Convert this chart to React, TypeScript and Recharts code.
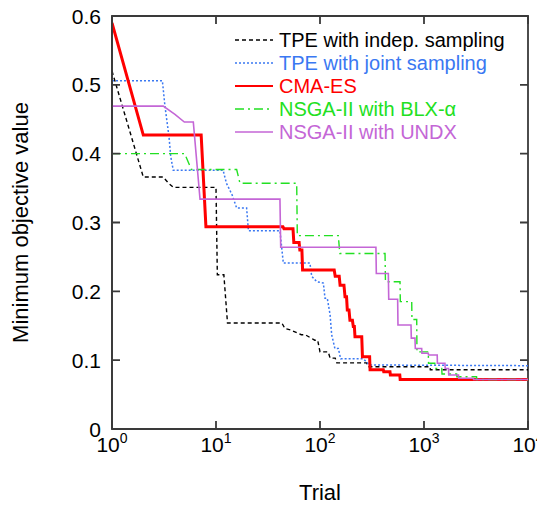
import React from 'react';
import { LineChart, Line, XAxis, YAxis, Legend, ReferenceArea } from 'recharts';

const FONT = '"Liberation Sans", Arial, Helvetica, sans-serif';
const AXIS = '#3a3a3a';
const AXIS_W = 1.8;
const PLOT_W = 416;
const PLOT_H = 413;
const TICK_LEN = 8;

// axis ticks
const xTicks = [1, 10, 100, 1000, 10000];
const xTickBase = '10';
const xTickExponents = ['0', '1', '2', '3', '4'];
const yTicks = [0, 0.1, 0.2, 0.3, 0.4, 0.5, 0.6];
const yTickLabels = ['0', '0.1', '0.2', '0.3', '0.4', '0.5', '0.6'];

// TPE with indep. sampling
const tpeIndepTrials = [1, 2, 3.1, 3.5, 3.9, 10, 10.3, 11.9, 12.9, 43, 46, 52, 66, 72, 89, 95, 100, 120, 125, 140, 145, 281, 290, 1143, 1150, 10000];
const tpeIndepValues = [0.52, 0.366, 0.366, 0.357, 0.351, 0.351, 0.224, 0.224, 0.154, 0.154, 0.146, 0.144, 0.137, 0.137, 0.129, 0.129, 0.112, 0.112, 0.103, 0.103, 0.096, 0.096, 0.0905, 0.0905, 0.086, 0.086];

// TPE with joint sampling
const tpeJointTrials = [1, 3.05, 3.23, 3.53, 3.67, 3.88, 11.7, 12.6, 14.3, 15.8, 19.7, 20.5, 41.2, 44.4, 80, 83.2, 93, 107.7, 111.7, 117.5, 125, 129.5, 139, 150, 158, 261, 300, 10000];
const tpeJointValues = [0.506, 0.506, 0.469, 0.425, 0.396, 0.376, 0.376, 0.357, 0.34, 0.321, 0.321, 0.288, 0.288, 0.241, 0.241, 0.222, 0.214, 0.212, 0.19, 0.19, 0.166, 0.137, 0.117, 0.117, 0.102, 0.102, 0.093, 0.092];

// CMA-ES
const cmaTrials = [1, 2, 7.2, 8, 44, 45, 55, 56, 63, 64, 67, 68, 137, 140, 153, 156, 170, 174, 180, 183, 190, 194, 205, 209, 214, 217, 252, 256, 300, 303, 406, 410, 471, 475, 585, 590, 10000];
const cmaValues = [0.59, 0.427, 0.427, 0.294, 0.294, 0.291, 0.291, 0.271, 0.271, 0.26, 0.26, 0.231, 0.231, 0.222, 0.222, 0.209, 0.209, 0.192, 0.192, 0.173, 0.173, 0.158, 0.158, 0.149, 0.149, 0.134, 0.134, 0.105, 0.105, 0.086, 0.086, 0.083, 0.083, 0.0785, 0.0785, 0.072, 0.072];

// NSGA-II with BLX-alpha
const blxTrials = [1, 5, 5.8, 15.8, 17, 59.7, 60.5, 150, 155, 422, 426, 588, 592, 762, 766, 851, 856, 1100, 1105, 1270, 1280, 1480, 1490, 2060, 2070, 3200, 3220, 10000];
const blxValues = [0.4, 0.4, 0.377, 0.377, 0.357, 0.357, 0.281, 0.281, 0.255, 0.255, 0.214, 0.214, 0.185, 0.185, 0.159, 0.159, 0.112, 0.112, 0.0955, 0.0955, 0.088, 0.088, 0.08, 0.08, 0.076, 0.076, 0.072, 0.072];

// NSGA-II with UNDX
const undxTrials = [1, 3.11, 4.03, 4.96, 6.05, 7.02, 41.2, 41.9, 345, 348, 454, 458, 558, 562, 750, 755, 819, 825, 950, 955, 1100, 1105, 1340, 1345, 1590, 1600, 1720, 1730, 2147, 2160, 2980, 3000, 10000];
const undxValues = [0.469, 0.469, 0.457, 0.446, 0.446, 0.334, 0.334, 0.264, 0.264, 0.226, 0.226, 0.1885, 0.1885, 0.151, 0.151, 0.132, 0.132, 0.117, 0.117, 0.11, 0.11, 0.1075, 0.1075, 0.0955, 0.0955, 0.088, 0.088, 0.0785, 0.0785, 0.0737, 0.0737, 0.072, 0.072];

const toData = (trials: number[], values: number[]) =>
  trials.map((t, i) => ({ trial: t, value: values[i] }));

const series = [
  { name: 'TPE with indep. sampling', color: '#000000', width: 1.4, dash: '4 3', data: toData(tpeIndepTrials, tpeIndepValues) },
  { name: 'TPE with joint sampling', color: '#3a78f2', width: 1.5, dash: '2 2', data: toData(tpeJointTrials, tpeJointValues) },
  { name: 'CMA-ES', color: '#ff0000', width: 3, dash: undefined, data: toData(cmaTrials, cmaValues) },
  { name: 'NSGA-II with BLX-\u03b1', color: '#22e022', width: 1.4, dash: '9 4 2 4', data: toData(blxTrials, blxValues) },
  { name: 'NSGA-II with UNDX', color: '#c466d6', width: 1.6, dash: undefined, data: toData(undxTrials, undxValues) },
];

const XTick = (props: any) => {
  const { x, y, payload } = props;
  const idx = xTicks.indexOf(payload.value);
  return (
    <g>
      <path d={`M${x},${y}V${y - TICK_LEN}M${x},${y - PLOT_H}V${y - PLOT_H + TICK_LEN}`} style={{ stroke: AXIS, strokeWidth: AXIS_W, fill: 'none' }} />
      <text x={x} y={y + 23} textAnchor="middle" fontSize={21} fill="#000" stroke="none" fontFamily={FONT}>
        <tspan>{xTickBase}</tspan>
        <tspan dy={-9} fontSize={14}>{xTickExponents[idx]}</tspan>
      </text>
    </g>
  );
};

const YTick = (props: any) => {
  const { x, y, payload } = props;
  const idx = yTicks.indexOf(payload.value);
  return (
    <g>
      <path d={`M${x},${y}H${x + TICK_LEN}M${x + PLOT_W - TICK_LEN},${y}H${x + PLOT_W}`} style={{ stroke: AXIS, strokeWidth: AXIS_W, fill: 'none' }} />
      <text x={x - 11} y={y + 7.5} textAnchor="end" fontSize={21} fill="#000" stroke="none" fontFamily={FONT}>
        {yTickLabels[idx]}
      </text>
    </g>
  );
};

const LegendBox = () => (
  <svg width={300} height={125} style={{ display: 'block' }}>
    {series.map((s, i) => {
      const cy = 17 + i * 23;
      return (
        <g key={s.name}>
          <line x1={7} x2={45} y1={cy} y2={cy} stroke={s.color} strokeWidth={s.name === 'CMA-ES' ? 2 : 1.4} strokeDasharray={s.dash} />
          <text x={51} y={cy + 7} fill={s.color} fontSize={20} fontFamily={FONT}>{s.name}</text>
        </g>
      );
    })}
  </svg>
);

export default function App() {
  return (
    <div style={{ fontFamily: FONT, width: 537, height: 497 }}>
      <style>{'.recharts-surface{overflow:visible}'}</style>
      <LineChart width={537} height={497} margin={{ top: 8, right: 17, bottom: 0, left: 0 }}>
        <XAxis
          xAxisId="b"
          dataKey="trial"
          type="number"
          scale="log"
          domain={[1, 10000]}
          allowDataOverflow
          ticks={xTicks}
          interval={0}
          orientation="bottom"
          height={76}
          tickSize={0}
          tickMargin={0}
          tick={<XTick />}
          tickLine={false}
          axisLine={{ stroke: AXIS, strokeWidth: AXIS_W }}
          label={{ value: 'Trial', position: 'insideBottom', offset: 5, fontSize: 22, fill: '#000' }}
        />
        <YAxis
          yAxisId="l"
          type="number"
          domain={[0, 0.6]}
          allowDataOverflow
          ticks={yTicks}
          interval={0}
          width={104}
          tickSize={0}
          tickMargin={0}
          tick={<YTick />}
          tickLine={false}
          axisLine={{ stroke: AXIS, strokeWidth: AXIS_W }}
          label={{ value: 'Minimum objective value', angle: -90, position: 'insideLeft', offset: 12, fontSize: 22, fill: '#000', style: { textAnchor: 'middle' } }}
        />
        <ReferenceArea xAxisId="b" yAxisId="l" x1={1} x2={10000} y1={0} y2={0.6} fill="none" fillOpacity={0} stroke={AXIS} strokeWidth={AXIS_W} strokeOpacity={1} ifOverflow="visible" />
        {series.map((s) => (
          <Line
            key={s.name}
            xAxisId="b"
            yAxisId="l"
            data={s.data}
            dataKey="value"
            name={s.name}
            type="linear"
            stroke={s.color}
            strokeWidth={s.width}
            strokeDasharray={s.dash}
            dot={false}
            activeDot={false}
            isAnimationActive={false}
          />
        ))}
        <Legend
          layout="vertical"
          align="center"
          verticalAlign="middle"
          content={<LegendBox />}
          wrapperStyle={{ position: 'absolute', left: 220, top: 15, width: 300, height: 125 }}
        />
      </LineChart>
    </div>
  );
}
